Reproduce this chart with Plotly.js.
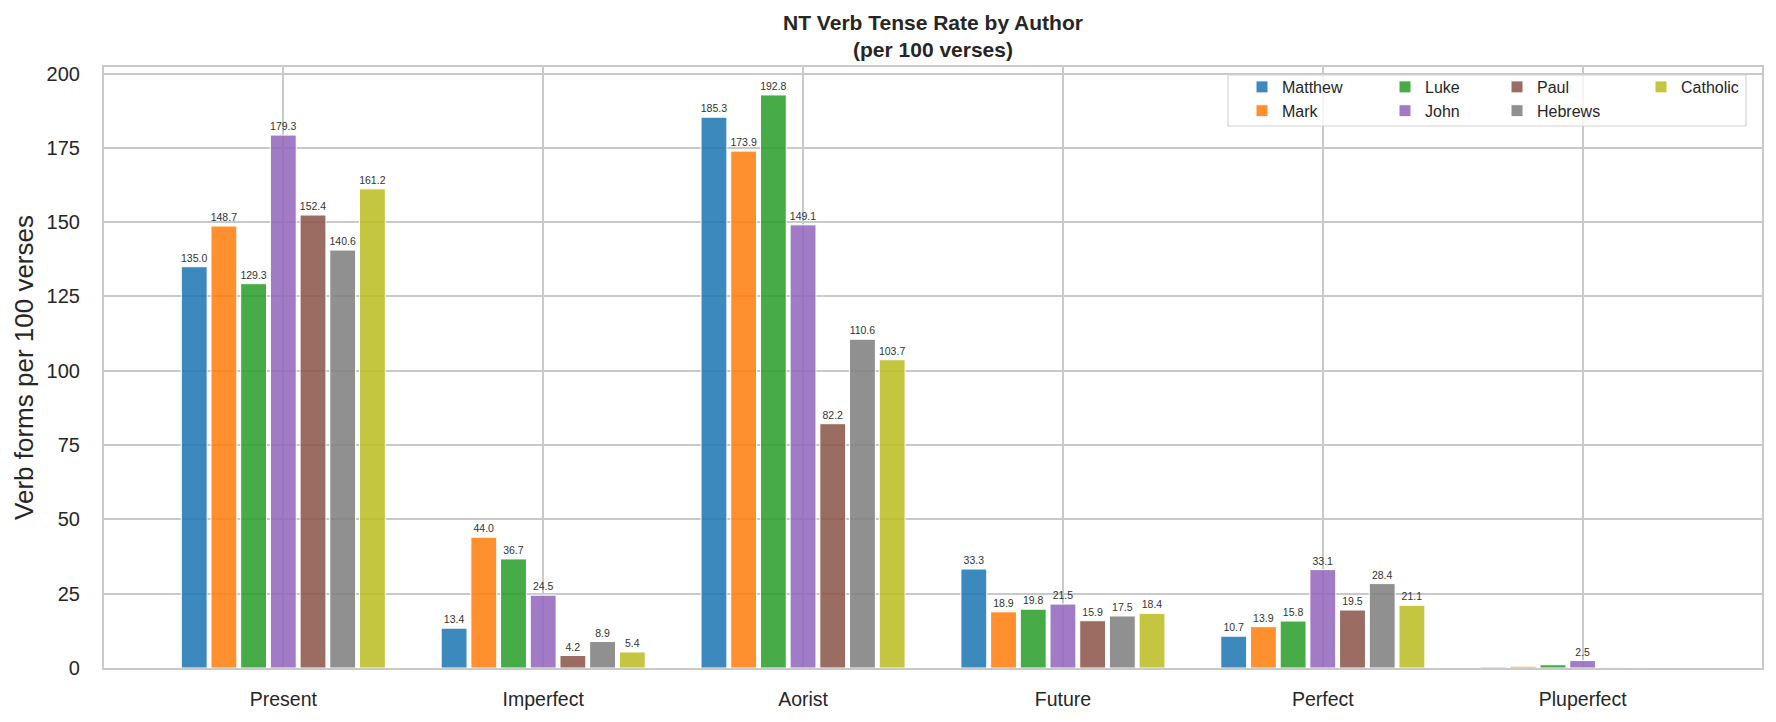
<!DOCTYPE html>
<html>
<head>
<meta charset="utf-8">
<script src="https://cdn.plot.ly/plotly-3.0.1.min.js"></script>
<style>
  html, body { margin: 0; padding: 0; background: #ffffff; }
  #chart { width: 1776px; height: 722px; }
</style>
</head>
<body>
<div id="chart"></div>
<script>
// ---- Data ----
const tenses = ["Present", "Imperfect", "Aorist", "Future", "Perfect", "Pluperfect"];
const authors = ["Matthew", "Mark", "Luke", "John", "Paul", "Hebrews", "Catholic"];
const matthew  = [135.0, 13.4, 185.3, 33.3, 10.7, 0.3];
const mark     = [148.7, 44.0, 173.9, 18.9, 13.9, 0.6];
const luke     = [129.3, 36.7, 192.8, 19.8, 15.8, 1.1];
const john     = [179.3, 24.5, 149.1, 21.5, 33.1, 2.5];
const paul     = [152.4,  4.2,  82.2, 15.9, 19.5, 0.1];
const hebrews  = [140.6,  8.9, 110.6, 17.5, 28.4, 0.1];
const catholic = [161.2,  5.4, 103.7, 18.4, 21.1, 0.0];
const yTicks = [0, 25, 50, 75, 100, 125, 150, 175, 200];

// ---- Styling ----
const seriesValues = [matthew, mark, luke, john, paul, hebrews, catholic];
const colors = ["31,119,180", "255,127,14", "44,160,44", "148,103,189", "140,86,75", "127,127,127", "188,189,34"];
const legendIds = ["legend", "legend", "legend2", "legend2", "legend3", "legend3", "legend4"];

const traces = authors.map((name, i) => ({
  type: "bar",
  name: name,
  x: tenses,
  y: seriesValues[i],
  text: seriesValues[i].map(v => v >= 2 ? v.toFixed(1) : ""),
  textposition: "outside",
  constraintext: "none",
  cliponaxis: false,
  textfont: { family: "Liberation Sans, Arial, sans-serif", size: 10.5, color: "#333333" },
  marker: { color: "rgba(" + colors[i] + ",0.87)", line: { color: "#ffffff", width: 1 } },
  legend: legendIds[i],
  hoverinfo: "x+y+name"
}));

// plot area in pixels: x 104..1762, y 66.7..668
const W = 1776, H = 722, L = 104, R = 14, T = 67, B = 54;
const pw = W - L - R, ph = H - T - B;
const px = x => (x - L) / pw;
const py = y => (H - B - y) / ph;

function legendAt(textX) {
  return {
    x: px(textX - 40), xanchor: "left", xref: "paper",
    y: py(70), yanchor: "top", yref: "paper",
    bgcolor: "rgba(0,0,0,0)", borderwidth: 0,
    font: { family: "Liberation Sans, Arial, sans-serif", size: 16, color: "#262626" },
    orientation: "v", tracegroupgap: 0
  };
}

const layout = {
  width: W, height: H,
  margin: { l: L, r: R, t: T, b: B, pad: 0 },
  paper_bgcolor: "#ffffff",
  plot_bgcolor: "#ffffff",
  font: { family: "Liberation Sans, Arial, sans-serif", color: "#262626" },
  barmode: "group",
  bargap: 0.2,
  bargroupgap: 0.13,
  showlegend: true,
  title: {
    text: "<b>NT Verb Tense Rate by Author</b><br><b>(per 100 verses)</b>",
    font: { family: "Liberation Sans, Arial, sans-serif", size: 21, color: "#262626" },
    x: px(933), xref: "paper", xanchor: "center",
    y: 1 - 30 / H, yref: "container", yanchor: "top"
  },
  xaxis: {
    type: "category",
    range: [-0.69, 5.69],
    showgrid: true, gridcolor: "#c9c9c9", gridwidth: 1.6,
    showline: true, linecolor: "#c9c9c9", linewidth: 2.2, mirror: true,
    ticks: "", zeroline: false,
    tickfont: { size: 19.5, color: "#262626" },
    ticklabelstandoff: 12
  },
  yaxis: {
    range: [0, 202.2],
    tickvals: yTicks,
    ticktext: yTicks.map(String),
    showgrid: true, gridcolor: "#c9c9c9", gridwidth: 1.6,
    showline: true, linecolor: "#c9c9c9", linewidth: 2.2, mirror: true,
    ticks: "", zeroline: false,
    tickfont: { size: 20, color: "#262626" },
    ticklabelstandoff: 18,
    title: { text: "Verb forms per 100 verses", font: { size: 26, color: "#262626" }, standoff: 5 }
  },
  legend: legendAt(1282),
  legend2: legendAt(1425),
  legend3: legendAt(1537),
  legend4: legendAt(1681),
  shapes: [{
    type: "rect", xref: "paper", yref: "paper", layer: "above",
    x0: px(1228), x1: px(1746), y0: py(126), y1: py(75),
    fillcolor: "rgba(255,255,255,0.8)",
    line: { color: "#d4d4d4", width: 1.2 }
  }]
};

Plotly.newPlot("chart", traces, layout, { displayModeBar: false, responsive: false });
</script>
</body>
</html>
